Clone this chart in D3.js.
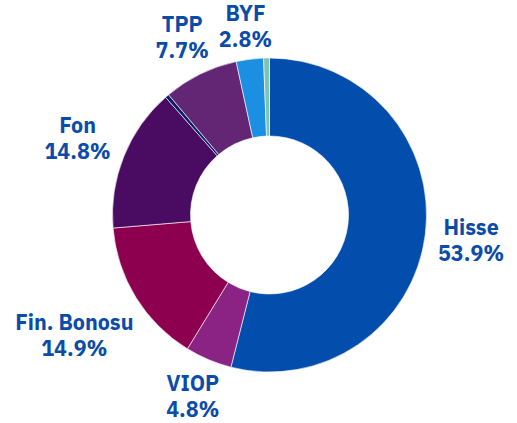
<!DOCTYPE html>
<html><head><meta charset="utf-8">
<script src="https://cdn.jsdelivr.net/npm/d3@7"></script>
<style>html,body{margin:0;padding:0;background:#fff;}svg{display:block;}</style>
</head><body>
<svg id="chart" width="517" height="423"></svg>
<script>
const categories = ["Hisse", "VIOP", "Fin. Bonosu", "Fon", "Diğer1", "TPP", "BYF", "Diğer2"];
const values = [53.9, 4.8, 14.9, 14.8, 0.4, 7.7, 2.8, 0.6];
const labels = ["53.9%", "4.8%", "14.9%", "14.8%", null, "7.7%", "2.8%", null];
const colors = ["#034dad", "#8b2384", "#8d004f", "#4a0c63", "#0c1f66", "#622675", "#1b8fe2", "#7ec4b6"];

const W = 517, H = 423, cx = 269.5, cy = 215, outerR = 157, innerR = 79, labelGap = 11.5;
const svg = d3.select("#chart");
const g = svg.append("g").attr("transform", `translate(${cx},${cy})`);

const data = categories.map((c, i) => ({cat: c, value: values[i], label: labels[i], color: colors[i]}));
const pie = d3.pie().value(d => d.value).sort(null);
const arc = d3.arc().innerRadius(innerR).outerRadius(outerR);
const arcs = pie(data);

g.selectAll("path").data(arcs).join("path")
  .attr("d", arc)
  .attr("fill", d => d.data.color)
  .attr("stroke", "#ffffff").attr("stroke-width", 0.6);

const fontSize = 21.5, lineH = 26, capH = fontSize * 0.714;
function nearestDist(cxb, cyb, w, h) {
  const nx = Math.max(cxb - w / 2, Math.min(0, cxb + w / 2));
  const ny = Math.max(cyb - h / 2, Math.min(0, cyb + h / 2));
  return Math.hypot(nx, ny);
}
arcs.filter(d => d.data.label).forEach(d => {
  const a = (d.startAngle + d.endAngle) / 2;
  const t = g.append("text")
    .attr("font-family", "'IBM Plex Sans', 'Noto Sans', sans-serif")
    .attr("font-weight", 700).attr("font-size", fontSize)
    .attr("fill", "#0b4ca8").attr("text-anchor", "middle");
  t.append("tspan").attr("x", 0).attr("y", 0).text(d.data.cat);
  t.append("tspan").attr("x", 0).attr("y", lineH).text(d.data.label);
  const w = t.node().getBBox().width;
  const h = lineH + capH;
  const ux = Math.sin(a), uy = -Math.cos(a);
  let lo = 0, hi = 400;
  for (let k = 0; k < 60; k++) {
    const mid = (lo + hi) / 2;
    if (nearestDist(ux * mid, uy * mid, w, h) < outerR + labelGap) lo = mid; else hi = mid;
  }
  const bx = ux * lo, by = uy * lo;
  t.attr("transform", `translate(${bx},${by - h / 2 + capH})`);
});
</script>
</body></html>
